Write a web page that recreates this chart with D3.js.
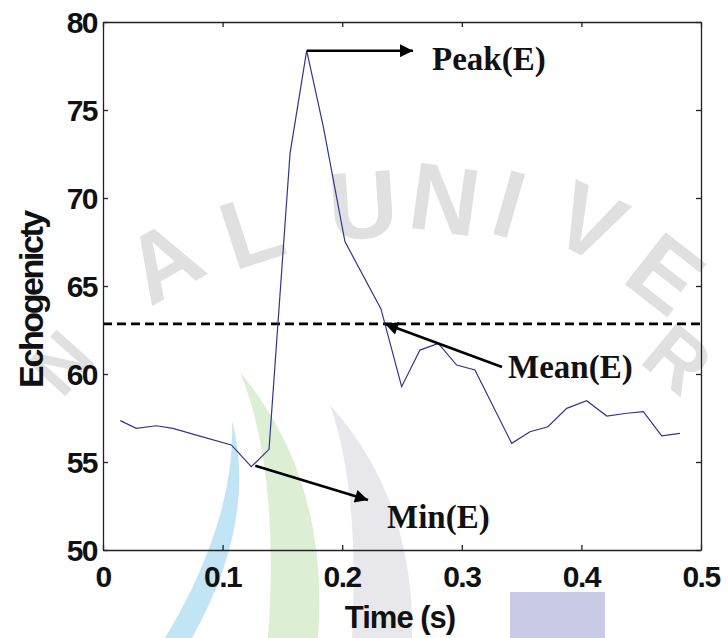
<!DOCTYPE html>
<html>
<head>
<meta charset="utf-8">
<script src="https://cdn.jsdelivr.net/npm/d3@7"></script>
<style>
  body { margin: 0; background: #fff; }
  svg { display: block; }
  .tick-label { font-family: "Liberation Sans", Arial, sans-serif; font-weight: bold; font-size: 30px; letter-spacing: -1.5px; fill: #111; }
  .note { font-family: "Liberation Serif", "Times New Roman", serif; font-weight: bold; font-size: 33px; fill: #111; }
</style>
</head>
<body>
<svg class="chart"></svg>
<script>
const width = 728;
const height = 638;
const margin = { top: 22, right: 27, bottom: 88, left: 103 };

// time (s) and echogenicity
const times = [0.0145, 0.0278, 0.0446, 0.0585, 0.078, 0.1073, 0.124, 0.1388, 0.1564, 0.1703,
  0.1842, 0.2023, 0.2324, 0.2497, 0.265, 0.2803, 0.2957, 0.311, 0.3417, 0.357,
  0.372, 0.3877, 0.4044, 0.4212, 0.4379, 0.4518, 0.4671, 0.4824];
const echo = [57.35, 56.91, 57.06, 56.91, 56.53, 55.97, 54.73, 55.72, 72.54, 78.37,
  74.05, 67.52, 63.7, 59.28, 61.36, 61.74, 60.51, 60.23, 56.06, 56.72,
  57.0, 58.05, 58.48, 57.61, 57.77, 57.86, 56.48, 56.63];
const meanE = 62.85;
const xTicks = [0, 0.1, 0.2, 0.3, 0.4, 0.5];
const yTicks = [50, 55, 60, 65, 70, 75, 80];

const svg = d3.select('.chart')
  .attr('width', width).attr('height', height);

const x = d3.scaleLinear().domain([0, 0.5]).range([margin.left, width - margin.right]);
const y = d3.scaleLinear().domain([50, 80]).range([height - margin.bottom, margin.top]);

drawWatermark();

// dashed mean line
svg.append('line')
  .attr('x1', x(0)).attr('x2', x(0.5))
  .attr('y1', y(meanE)).attr('y2', y(meanE))
  .style('stroke', '#000')
  .style('stroke-width', 2.6)
  .style('stroke-dasharray', '9,5');

// the curve
const line = d3.line().x((d, i) => x(times[i])).y(d => y(d));
svg.append('path')
  .datum(echo)
  .attr('d', line)
  .style('fill', 'none')
  .style('stroke', '#34348c')
  .style('stroke-width', 1.2);

// axes box with inward ticks on all four sides
const tickLen = 5;
const axBottom = svg.append('g').attr('transform', `translate(0,${y(50)})`)
  .call(d3.axisBottom(x).tickValues(xTicks).tickSizeInner(-tickLen).tickSizeOuter(0).tickFormat(''));
const axTop = svg.append('g').attr('transform', `translate(0,${y(80)})`)
  .call(d3.axisTop(x).tickValues(xTicks).tickSizeInner(-tickLen).tickSizeOuter(0).tickFormat(''));
const axLeft = svg.append('g').attr('transform', `translate(${x(0)},0)`)
  .call(d3.axisLeft(y).tickValues(yTicks).tickSizeInner(-tickLen).tickSizeOuter(0).tickFormat(''));
const axRight = svg.append('g').attr('transform', `translate(${x(0.5)},0)`)
  .call(d3.axisRight(y).tickValues(yTicks).tickSizeInner(-tickLen).tickSizeOuter(0).tickFormat(''));
[axBottom, axTop, axLeft, axRight].forEach(g => {
  g.selectAll('path, line').style('stroke', '#222').style('stroke-width', 1.3);
});

// tick labels
svg.selectAll('.ylab')
  .data(yTicks)
  .enter()
  .append('text')
  .attr('class', 'tick-label')
  .attr('x', x(0) - 6)
  .attr('y', d => y(d))
  .attr('dy', '0.36em')
  .attr('text-anchor', 'end')
  .text(d => d);

svg.selectAll('.xlab')
  .data(xTicks)
  .enter()
  .append('text')
  .attr('class', 'tick-label')
  .attr('x', d => x(d))
  .attr('y', y(50) + 37)
  .attr('text-anchor', 'middle')
  .text(d => d === 0 ? '0' : d.toFixed(1));

svg.append('text')
  .attr('class', 'tick-label')
  .attr('x', 400)
  .attr('y', 628)
  .attr('text-anchor', 'middle')
  .style('font-size', '31px')
  .style('letter-spacing', '-1px')
  .text('Time (s)');

svg.append('text')
  .attr('class', 'tick-label')
  .attr('transform', `translate(43,${300}) rotate(-90)`)
  .attr('text-anchor', 'middle')
  .style('font-size', '34px')
  .style('letter-spacing', '-2.4px')
  .text('Echogenicty');

// annotations
svg.append('defs').append('marker')
  .attr('id', 'head')
  .attr('viewBox', '0 0 10 10')
  .attr('refX', 10).attr('refY', 5)
  .attr('markerWidth', 6).attr('markerHeight', 5)
  .attr('markerUnits', 'strokeWidth')
  .attr('orient', 'auto')
  .append('path')
  .attr('d', 'M0,0L10,5L0,10Z')
  .style('fill', '#000');

const iPeak = echo.indexOf(d3.max(echo));
const iMin = echo.indexOf(d3.min(echo.slice(0, 9)));

function arrow(x1, y1, x2, y2) {
  svg.append('line')
    .attr('x1', x1).attr('y1', y1).attr('x2', x2).attr('y2', y2)
    .style('stroke', '#000')
    .style('stroke-width', 2.6)
    .attr('marker-end', 'url(#head)');
}

arrow(x(times[iPeak]), y(echo[iPeak]), 413, y(echo[iPeak]));
svg.append('text').attr('class', 'note').attr('x', 432).attr('y', 70).text('Peak(E)');

arrow(502, 367, 385, y(meanE));
svg.append('text').attr('class', 'note').attr('x', 508).attr('y', 378).text('Mean(E)');

arrow(x(times[iMin]) + 4, y(echo[iMin]) - 1, 368, 500);
svg.append('text').attr('class', 'note').attr('x', 387).attr('y', 528).text('Min(E)');

function drawWatermark() {
  const wm = svg.append('g').style('pointer-events', 'none');
  // coloured crescents of the logo
  wm.append('path')
    .attr('d', 'M232,420 Q258,520 192,638 L165,638 Q236,520 232,420 Z')
    .style('fill', '#c2e5f5');
  wm.append('path')
    .attr('d', 'M240,372 Q330,480 318,638 L268,638 Q280,470 240,372 Z')
    .style('fill', '#dcefd5');
  wm.append('path')
    .attr('d', 'M330,405 Q415,500 412,638 L352,638 Q360,490 330,405 Z')
    .style('fill', '#e8e8ec');
  wm.append('rect')
    .attr('x', 510).attr('y', 592).attr('width', 95).attr('height', 46)
    .style('fill', '#c8cae6');
  // grey lettering along an arc
  const letters = [['N', 80, 380, -48, 74], ['A', 180, 290, -30, 96], ['L', 262, 262, -18, 96],
    ['U', 365, 238, -4, 96], ['N', 440, 232, 8, 96], ['I', 500, 236, 16, 96],
    ['V', 575, 252, 26, 96], ['E', 645, 300, 38, 96], ['R', 660, 380, 40, 80]];
  wm.selectAll('.wl')
    .data(letters)
    .enter()
    .append('text')
    .attr('transform', d => `translate(${d[1]},${d[2]}) rotate(${d[3]})`)
    .attr('text-anchor', 'middle')
    .style('font-family', 'Liberation Sans, Arial, sans-serif')
    .style('font-weight', 'bold')
    .style('font-size', d => d[4] + 'px')
    .style('fill', '#e0e0e0')
    .text(d => d[0]);
}
</script>
</body>
</html>
